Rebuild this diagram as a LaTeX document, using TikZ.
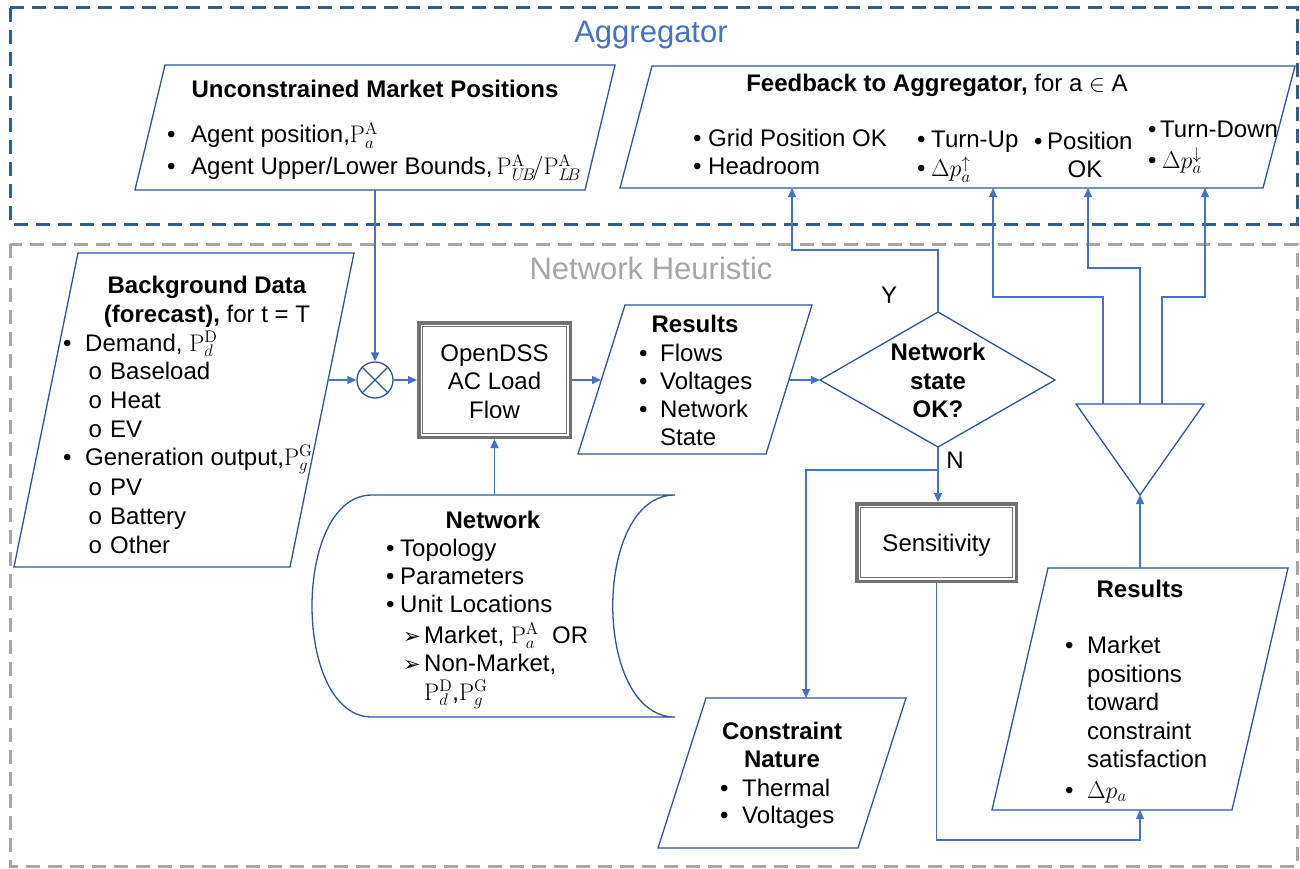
\RequirePackage{fix-cm}
\documentclass[tikz,border=0pt]{standalone}
\usepackage[no-math]{fontspec}
\setmainfont{Liberation Sans}
\newfontfamily\djv{DejaVu Sans}
\newfontfamily\cmon{Liberation Mono}
\usetikzlibrary{arrows.meta}
\definecolor{shp}{HTML}{2F5597}
\definecolor{con}{HTML}{4472C4}
\definecolor{aggc}{HTML}{2E5F8F}
\definecolor{nhc}{HTML}{A6A6A6}
\definecolor{dbl}{HTML}{767171}
\newcommand{\bitem}[1]{\makebox[#1][l]{•}}
\newcommand{\sitem}{\makebox[22pt][l]{\cmon o}}
\newcommand{\aitem}{\makebox[21pt][l]{\djv\fontsize{21}{22}\selectfont ➢}}
\begin{document}
\begin{tikzpicture}[x=1pt,y=-1pt,
  shape line/.style={draw=shp, line width=1.3pt, line join=miter},
  conn/.style={draw=con, line width=1.4pt, -{Triangle[length=9pt,width=8pt]}},
  frame/.style={line width=3pt, dash pattern=on 14pt off 8pt},
  txt/.style={inner sep=0pt, font=\fontsize{24}{28}\selectfont, text=black},
  ttl/.style={inner sep=0pt, font=\fontsize{24}{28}\selectfont\bfseries, text=black},
  big/.style={inner sep=0pt, font=\fontsize{31}{36}\selectfont},
  dblbox/.style={draw=dbl, line width=3.5pt, inner sep=0pt},
  inner/.style={draw=dbl, line width=1pt},
]
\useasboundingbox (0,0) rectangle (1300,869);
\fill[white] (0,0) rectangle (1300,869);

% ---------- frames
\draw[frame, draw=aggc] (10,8) rectangle (1297,224);
\draw[frame, draw=nhc] (10,244) rectangle (1297,866);
\node[big, text=con, anchor=base] (aggt) at (651,43) {Aggregator};
\node[big, text=nhc, anchor=base] (nht) at (651,279) {Network Heuristic};

% ---------- coordinates
\coordinate (ump-b) at (375,190);
\coordinate (bg-r) at (328,380);
\coordinate (res1-l) at (601,380);
\coordinate (res1-r) at (789,380);
\coordinate (dia-l) at (820,380);
\coordinate (dia-r) at (1055,380);
\coordinate (dia-t) at (938,312);
\coordinate (dia-b) at (938,447);
\coordinate (ybend) at (938,250);
\coordinate (fbY) at (792,188);
\coordinate (nb) at (938,470);
\coordinate (cn-t) at (806,698);
\coordinate (net-t) at (494.5,495);
\coordinate (r2-t) at (1140,568);
\coordinate (r2-b) at (1140,810);
\coordinate (sbot) at (1140,840);
\coordinate (tri-a) at (1140,495);
\coordinate (to1) at (1103,404);
\coordinate (to2) at (1140,404);
\coordinate (to3) at (1162,404);
\coordinate (k2) at (993,297);
\coordinate (k3) at (1088,268);
\coordinate (k4) at (1205,297);
\coordinate (fb-a) at (993,188);
\coordinate (fb-b) at (1088,188);
\coordinate (fb-c) at (1205,188);

% ---------- shapes
\draw[shape line] (165,65) -- (615,65) -- (585,190) -- (135,190) -- cycle;
\draw[shape line] (652,66) -- (1295,66) -- (1263,188) -- (620,188) -- cycle;
\draw[shape line] (78,253) -- (354,253) -- (290,567) -- (14,567) -- cycle;
\draw[shape line] (625,305) -- (812,305) -- (766,454) -- (578,454) -- cycle;
\draw[shape line] (dia-l) -- (dia-t) -- (dia-r) -- (dia-b) -- cycle;
\draw[shape line] (706,698) -- (906,698) -- (858,848) -- (658,848) -- cycle;
\draw[shape line] (1048,568) -- (1288,568) -- (1232,810) -- (992,810) -- cycle;
\draw[shape line] (1076,404) -- (1204,404) -- (tri-a) -- cycle;
\draw[shape line] (372,495) -- (675,495) .. controls (592,495) and (592,717) .. (675,717)
  -- (372,717) .. controls (292,717) and (292,495) .. (372,495) -- cycle;

\node[circle, draw=shp, line width=1.3pt, minimum size=36pt, inner sep=0pt] (mix) at (375,380) {};
\draw[shp, line width=1.3pt] (mix.north west) -- (mix.south east);
\draw[shp, line width=1.3pt] (mix.north east) -- (mix.south west);

\node[dblbox, minimum width=151.5pt, minimum height=114.5pt] (dss) at (494.5,380) {};
\draw[inner] ([shift={(5.5,5.5)}]dss.north west) rectangle ([shift={(-5.5,-5.5)}]dss.south east);
\node[dblbox, minimum width=159.5pt, minimum height=77.5pt] (sens) at (936.5,542.5) {};
\draw[inner] ([shift={(5.5,5.5)}]sens.north west) rectangle ([shift={(-5.5,-5.5)}]sens.south east);

% ---------- texts: unconstrained
\node[ttl, anchor=base] (umpt) at (375,98) {Unconstrained Market Positions};
\node[txt, anchor=base west] (ump1) at (167,143) {\bitem{24pt}Agent position,$\mathrm{P}_a^{\mathrm{A}}$};
\node[txt, anchor=base west] (ump2) at (167,175) {\bitem{24pt}Agent Upper/Lower Bounds,\hspace{4pt}$\mathrm{P}_{U\!B}^{\mathrm{A}}\!/\mathrm{P}_{L\!B}^{\mathrm{A}}$};

% ---------- feedback
\node[txt, anchor=base] (fbt) at (937,92) {\textbf{Feedback to Aggregator,} for a $\in$ A};
\node[txt, anchor=base west] (fb1) at (693,147) {\bitem{15pt}Grid Position OK};
\node[txt, anchor=base west] (fb2) at (693,175) {\bitem{15pt}Headroom};
\node[txt, anchor=base west] (fb3) at (917,148) {\bitem{14pt}Turn-Up};
\node[txt, anchor=base west] (fb4) at (917,177) {\bitem{14pt}$\Delta p_a^{\uparrow}$};
\node[txt, anchor=base west] (fb5) at (1034,150) {\bitem{13pt}Position};
\node[txt, anchor=base] (fb6) at (1085,178) {OK};
\node[txt, anchor=base west] (fb7) at (1148,138) {\bitem{12pt}Turn-Down};
\node[txt, anchor=base west] (fb8) at (1148,168) {\bitem{14pt}$\Delta p_a^{\downarrow}$};

% ---------- background data
\node[ttl, anchor=base] (bgt1) at (207,293) {Background Data};
\node[txt, anchor=base] (bgt2) at (207,322) {\textbf{(forecast),} for t = T};
\node[txt, anchor=base west] (bg1) at (63,351) {\bitem{22pt}Demand, $\mathrm{P}_d^{\mathrm{D}}$};
\node[txt, anchor=base west] (bg2) at (88,379) {\sitem Baseload};
\node[txt, anchor=base west] (bg3) at (88,408) {\sitem Heat};
\node[txt, anchor=base west] (bg4) at (88,437) {\sitem EV};
\node[txt, anchor=base west] (bg5) at (63,465) {\bitem{22pt}Generation output,$\mathrm{P}_g^{\mathrm{G}}$};
\node[txt, anchor=base west] (bg6) at (88,495) {\sitem PV};
\node[txt, anchor=base west] (bg7) at (88,524) {\sitem Battery};
\node[txt, anchor=base west] (bg8) at (88,553) {\sitem Other};

% ---------- OpenDSS
\node[txt, anchor=base] (dss1) at (494.5,361) {OpenDSS};
\node[txt, anchor=base] (dss2) at (494.5,389) {AC Load};
\node[txt, anchor=base] (dss3) at (494.5,418) {Flow};

% ---------- results (middle)
\node[ttl, anchor=base] (r1t) at (695,332) {Results};
\node[txt, anchor=base west] (r11) at (639,361) {\bitem{21pt}Flows};
\node[txt, anchor=base west] (r12) at (639,389) {\bitem{21pt}Voltages};
\node[txt, anchor=base west] (r13) at (639,417) {\bitem{21pt}Network};
\node[txt, anchor=base west] (r14) at (660,445) {State};

% ---------- diamond
\node[ttl, anchor=base] (d1) at (938,360) {Network};
\node[ttl, anchor=base] (d2) at (938,389) {state};
\node[ttl, anchor=base] (d3) at (938,417) {OK?};
\node[txt, anchor=base] (ylab) at (889,303) {Y};
\node[txt, anchor=base] (nlab) at (955,468) {N};

% ---------- sensitivity
\node[txt, anchor=base] (sens1) at (936.5,551) {Sensitivity};

% ---------- network cylinder
\node[ttl, anchor=base] (nt) at (493,528) {Network};
\node[txt, anchor=base west] (n1) at (386,556) {\bitem{14pt}Topology};
\node[txt, anchor=base west] (n2) at (386,584) {\bitem{14pt}Parameters};
\node[txt, anchor=base west] (n3) at (386,612) {\bitem{14pt}Unit Locations};
\node[txt, anchor=base west] (n4) at (403,643) {\aitem Market, $\mathrm{P}_a^{\mathrm{A}}$\ \ OR};
\node[txt, anchor=base west] (n5) at (403,671) {\aitem Non-Market,};
\node[txt, anchor=base west] (n6) at (424,700) {$\mathrm{P}_d^{\mathrm{D}}$,$\mathrm{P}_g^{\mathrm{G}}$};

% ---------- constraint nature
\node[ttl, anchor=base] (c1) at (782,739) {Constraint};
\node[ttl, anchor=base] (c2) at (782,767) {Nature};
\node[txt, anchor=base west] (c3) at (720,796) {\bitem{22pt}Thermal};
\node[txt, anchor=base west] (c4) at (720,823) {\bitem{22pt}Voltages};

% ---------- results (right)
\node[ttl, anchor=base] (r2t) at (1140,597) {Results};
\node[txt, anchor=base west] (r21) at (1065,653) {\bitem{22pt}Market};
\node[txt, anchor=base west] (r22) at (1087,682) {positions};
\node[txt, anchor=base west] (r23) at (1087,710) {toward};
\node[txt, anchor=base west] (r24) at (1087,739) {constraint};
\node[txt, anchor=base west] (r25) at (1087,767) {satisfaction};
\node[txt, anchor=base west] (r26) at (1065,798) {\bitem{22pt}$\Delta p_a$};

% ---------- connectors
\draw[conn] (ump-b) -- (mix.north);
\draw[conn] (bg-r) -- (mix.west);
\draw[conn] (mix.east) -- (dss.west);
\draw[conn] (dss.east) -- (res1-l);
\draw[conn] (net-t) -- (dss.south);
\draw[conn] (res1-r) -- (dia-l);
\draw[conn] (dia-t) -- (ybend) -| (fbY);
\draw[conn] (dia-b) -- (dia-b |- sens.north);
\draw[conn] (nb) -| (cn-t);
\draw[conn] (sens.south) |- (sbot) -- (r2-b);
\draw[conn] (r2-t) -- (tri-a);
\draw[conn] (to1) |- (k2) -- (fb-a);
\draw[conn] (to2) |- (k3) -- (fb-b);
\draw[conn] (to3) |- (k4) -- (fb-c);
\end{tikzpicture}
\end{document}
